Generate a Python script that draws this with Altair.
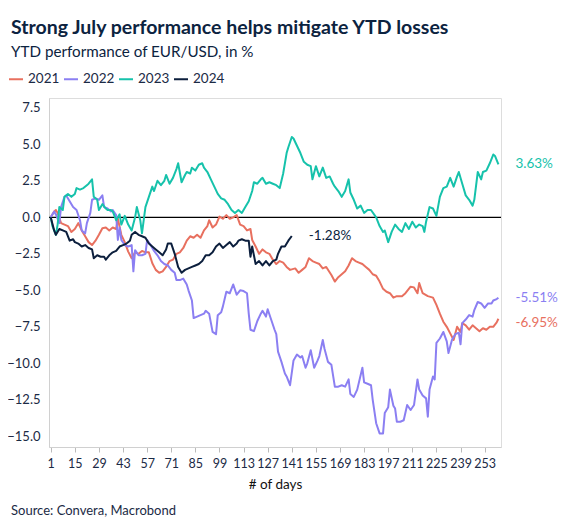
import altair as alt
import pandas as pd

FONT = "Lato"

years = ["2021", "2022", "2023", "2024"]
colors = ["#E8705F", "#8B7FF2", "#16C2AB", "#0C1F3D"]
widths = [2, 2, 2, 3.5]

d21 = [1,3,4,5,7,9,11,13,15,17,19,21,23,25,27,29,31,33,35,37,39,40,42,44,46,48,50,52,54,56,58,60,62,64,66,68,70,72,74,76,78,80,82,84,86,88,90,92,93,95,97,99,101,103,105,107,109,111,113,115,117,118,120,122,124,126,128,130,132,134,136,138,140,143,145,147,149,151,153,155,157,159,161,164,166,168,170,172,174,176,178,180,182,184,186,188,190,192,194,196,198,200,202,205,207,210,212,214,215,217,220,223,225,227,229,231,233,235,237,239,240,242,244,246,248,250,252,254,256,258,260,261]
v21 = [0,0.4,0.5,0.3,-0.4,-0.5,-0.6,-1.0,-0.8,-0.4,-0.9,-1.3,-1.7,-1.9,-1.6,-1.2,-0.75,-0.7,-0.9,-0.7,-0.8,-0.1,-1.2,-1.7,-2.35,-2.8,-2.4,-2.5,-2.3,-2.4,-2.4,-3.15,-3.6,-3.8,-3.7,-3.4,-3.0,-2.9,-2.5,-2.4,-2.1,-1.6,-1.3,-1.4,-1.2,-1.4,-0.9,-0.6,-0.2,-0.7,-0.5,0.05,-0.1,0.15,-0.1,0.0,0.15,-0.5,-0.6,-0.9,-0.8,-1.55,-2.0,-2.5,-2.2,-2.4,-2.5,-2.9,-3.2,-3.0,-3.1,-3.4,-3.6,-3.5,-3.8,-3.6,-3.4,-2.8,-3.0,-3.1,-3.2,-3.5,-3.4,-3.95,-4.4,-4.1,-3.9,-3.7,-3.3,-2.8,-3.0,-3.1,-3.2,-3.4,-3.6,-3.9,-4.0,-4.4,-4.9,-5.1,-5.2,-5.5,-5.4,-5.4,-5.2,-4.75,-4.8,-5.2,-4.5,-5.2,-5.4,-5.5,-6.0,-6.6,-7.15,-7.5,-7.95,-8.4,-7.5,-7.85,-7.25,-7.4,-7.7,-7.4,-7.6,-7.8,-7.6,-7.7,-7.5,-7.5,-7.2,-6.95]

d22 = [1,3,4,6,7,9,10,12,14,16,18,19,21,22,24,25,27,29,31,32,34,36,37,39,40,41,42,44,46,48,49,50,52,54,56,57,59,61,63,65,67,69,71,73,74,76,78,80,81,83,84,86,88,90,91,93,95,97,98,100,101,103,105,107,109,111,113,115,116,117,119,121,123,124,126,127,129,131,132,133,135,137,138,140,142,144,146,147,149,150,152,154,156,157,159,160,162,164,166,168,170,172,174,175,177,179,182,183,185,187,188,190,192,194,195,197,198,200,201,202,204,206,208,210,212,214,215,217,219,220,221,223,224,225,227,229,231,232,234,236,238,239,240,242,244,246,247,249,251,253,255,257,258,260,261]
v22 = [0,0.4,0.2,-0.4,0.7,1.4,1.5,1.1,0.7,0.5,-0.2,-0.9,-1.1,-0.4,0.3,1.2,1.3,1.2,1.5,0.7,0.6,0.4,0.5,0.15,-1.55,-0.7,-1.55,-1.9,-2.0,-1.9,-3.7,-2.25,-2.6,-2.6,-2.5,-1.55,-1.9,-2.3,-2.6,-3.0,-3.2,-3.3,-3.6,-3.8,-4.3,-4.3,-4.2,-4.6,-5.0,-5.7,-6.9,-6.8,-6.7,-6.6,-6.4,-6.6,-7.85,-8.0,-6.7,-6.5,-6.1,-5.1,-5.2,-4.6,-5.3,-5.0,-5.05,-5.2,-6.6,-7.7,-7.8,-7.1,-6.6,-6.4,-6.8,-6.3,-7.0,-7.7,-8.0,-9.2,-9.9,-10.7,-10.9,-11.5,-9.8,-9.4,-9.6,-9.5,-10.3,-10.0,-9.1,-10.3,-9.8,-9.5,-8.4,-9.0,-9.9,-10.1,-11.6,-11.6,-11.5,-11.6,-11.1,-12.1,-12.3,-11.8,-10.3,-11.3,-11.4,-11.5,-12.5,-14.1,-14.8,-14.8,-13.4,-13.0,-11.8,-12.9,-13.1,-14.0,-14.0,-13.9,-12.85,-13.2,-12.85,-11.1,-11.8,-12.2,-12.4,-13.65,-11.8,-10.9,-11.1,-8.6,-8.3,-7.85,-8.5,-9.3,-8.4,-8.0,-7.9,-8.7,-7.25,-7.0,-6.7,-6.8,-6.35,-5.8,-5.9,-6.2,-5.9,-5.9,-5.7,-5.6,-5.51]

d23 = [1,2,4,5,6,8,9,11,13,15,16,18,20,22,23,25,26,28,29,31,33,34,36,37,39,41,42,44,46,48,50,51,53,54,56,58,60,61,63,65,67,68,70,72,74,75,77,79,80,82,83,85,87,89,90,92,94,96,98,100,102,104,106,108,110,112,114,116,118,119,121,123,124,126,128,130,132,134,136,138,139,141,142,144,146,148,150,152,153,155,157,159,161,163,165,166,168,170,172,174,175,177,179,181,183,185,187,190,192,194,195,197,199,201,203,205,207,209,211,213,215,217,218,219,221,223,225,227,229,231,233,235,237,238,240,242,244,246,247,249,251,252,254,256,258,259,261]
v23 = [0,-0.6,-1.2,-0.5,0.7,0.5,1.4,1.6,1.4,1.6,2.0,1.9,2.0,2.2,2.3,2.6,1.4,1.2,0.5,0.9,0.6,0.5,0.5,0.4,-0.2,0.2,-0.5,0.1,-0.5,-0.9,0.0,0.7,-0.2,-1.1,0.7,1.4,2.1,1.8,2.5,2.2,2.5,2.9,2.3,2.7,3.3,3.7,2.4,2.9,3.1,3.0,3.4,3.2,3.6,3.7,3.4,3.1,2.6,2.1,1.6,1.3,1.2,0.9,0.5,0.3,0.5,0.3,0.7,1.1,1.8,2.4,2.3,2.6,2.7,2.3,2.4,2.3,2.2,2.0,3.0,4.4,4.8,5.5,5.4,4.9,4.4,3.8,3.6,3.5,2.6,3.5,2.8,3.4,2.7,2.8,2.3,2.1,1.8,1.4,1.8,2.6,1.7,1.2,0.6,0.8,0.3,0.5,0.5,0.0,-0.6,-1.0,-0.9,-1.7,-1.0,-0.5,-0.8,-1.0,-0.4,-0.8,-0.3,-0.7,-0.5,-0.6,-1.0,-0.3,0.7,0.6,0.1,1.4,2.0,2.1,2.7,2.1,2.8,3.1,2.3,1.5,1.2,0.8,1.2,3.1,2.6,3.1,3.2,3.7,4.3,4.2,3.63]

d24 = [1,3,4,6,8,10,12,14,15,17,19,21,23,25,26,28,30,32,33,35,37,39,41,43,45,47,48,50,52,54,56,58,60,62,64,66,68,69,71,73,75,77,79,81,83,85,87,89,91,93,95,97,99,101,103,105,107,109,110,112,114,116,117,118,120,122,124,126,128,130,132,133,135,137,139,141]
v24 = [0,-0.9,-1.2,-0.8,-0.9,-1.0,-1.6,-1.5,-1.7,-1.8,-2.0,-1.9,-2.1,-2.2,-2.8,-2.6,-2.7,-2.7,-2.9,-2.6,-2.4,-2.3,-2.0,-1.9,-1.8,-1.6,-1.2,-1.0,-1.2,-1.3,-1.4,-1.8,-2.0,-2.2,-2.4,-2.6,-2.2,-1.8,-1.8,-2.5,-3.4,-3.8,-3.6,-3.5,-3.4,-3.3,-3.2,-3.0,-2.6,-2.6,-2.4,-2.0,-1.8,-2.1,-1.9,-1.7,-2.0,-1.8,-1.6,-1.5,-1.6,-1.6,-2.7,-2.0,-3.2,-3.0,-3.3,-3.0,-3.3,-3.0,-2.9,-2.5,-2.0,-2.0,-1.6,-1.28]

x_ticks = [1, 15, 29, 43, 57, 71, 85, 99, 113, 127, 141, 155, 169, 183, 197, 211, 225, 239, 253]
y_ticks = [-15, -12.5, -10, -7.5, -5, -2.5, 0, 2.5, 5, 7.5]

rows = []
for yr, dd, vv in zip(years, [d21, d22, d23, d24], [v21, v22, v23, v24]):
    for d, v in zip(dd, vv):
        rows.append({"day": d, "value": v, "year": yr})
df = pd.DataFrame(rows)

last = df.sort_values("day").groupby("year").tail(1).copy()
last["label"] = last["value"].map(lambda v: f"{v:.2f}%")

xs = alt.Scale(domain=[0, 262.5], nice=False, zero=False)
ys = alt.Scale(domain=[-15.73, 8.17], nice=False, zero=False)
cs = alt.Scale(domain=years, range=colors)

x_axis = alt.Axis(values=x_ticks, tickCount=40, labelOverlap=False,
                  labelFlush=False, grid=False, tickSize=5,
                  tickColor="#bbbbbb", domainColor="#d0d0d0",
                  labelFontSize=12.5, labelColor="#1b2a45",
                  titleFontSize=13.5, titleFontWeight="normal",
                  titleColor="#111111", labelPadding=5, titlePadding=8,
                  labelFont=FONT, titleFont=FONT)
y_axis = alt.Axis(values=y_ticks, tickCount=40, labelOverlap=False,
                  format=".1f", grid=False, ticks=False,
                  domainColor="#d0d0d0", labelFontSize=13,
                  labelColor="#1b2a45", labelPadding=9, labelFont=FONT)

lines = alt.Chart(df).mark_line(strokeJoin="round").encode(
    x=alt.X("day:Q", scale=xs, title="# of days", axis=x_axis),
    y=alt.Y("value:Q", scale=ys, title=None, axis=y_axis),
    color=alt.Color("year:N", scale=cs, title=None,
                    legend=alt.Legend(orient="none", legendX=-41, legendY=-27,
                                      direction="horizontal", symbolType="stroke",
                                      symbolSize=196, symbolStrokeWidth=2.5,
                                      labelFontSize=13.5, labelColor="#1b2a45",
                                      labelFont=FONT, columnPadding=0,
                                      labelOffset=4)),
    strokeWidth=alt.StrokeWidth("year:N", scale=alt.Scale(domain=years, range=widths),
                                legend=None),
    order="day:Q",
)

zero = alt.Chart(pd.DataFrame({"v": [0]})).mark_rule(color="#000000", strokeWidth=1.3).encode(
    y=alt.Y("v:Q", scale=ys, title=None, axis=y_axis)
)

def end_labels(flt, dy):
    return alt.Chart(last).transform_filter(flt).mark_text(
        align="left", baseline="middle", dx=17, dy=dy, fontSize=13.5, font=FONT
    ).encode(
        x=alt.X("day:Q", scale=xs, title="# of days", axis=x_axis),
        y=alt.Y("value:Q", scale=ys, title=None, axis=y_axis),
        text="label:N",
        color=alt.Color("year:N", scale=cs, legend=None),
    )

labels_main = end_labels(alt.datum.year != "2021", 0)
labels_21 = end_labels(alt.datum.year == "2021", 4)

source = alt.Chart(pd.DataFrame({"t": ["Source: Convera, Macrobond"]})).mark_text(
    align="left", baseline="middle", fontSize=13, font=FONT, color="#1b2a45"
).encode(x=alt.value(-38), y=alt.value(413), text="t:N")

chart = alt.layer(zero, lines, labels_main, labels_21, source).properties(
    width=452, height=349,
    autosize=alt.AutoSizeParams(type="none"),
    padding={"left": 41, "top": 90, "right": 57, "bottom": 74},
    title=alt.TitleParams(
        text="Strong July performance helps mitigate YTD losses",
        subtitle="YTD performance of EUR/USD, in %",
        anchor="start", frame="group", dx=-38, offset=10, font=FONT, fontSize=19.5,
        fontWeight="bold", color="#0c2340", subtitleFont=FONT,
        subtitleFontSize=15.2, subtitleColor="#0c2340", subtitlePadding=6,
    ),
).configure_view(stroke=None).configure(background="white")

chart.save("out.html", embed_options={"renderer": "svg", "actions": False})
